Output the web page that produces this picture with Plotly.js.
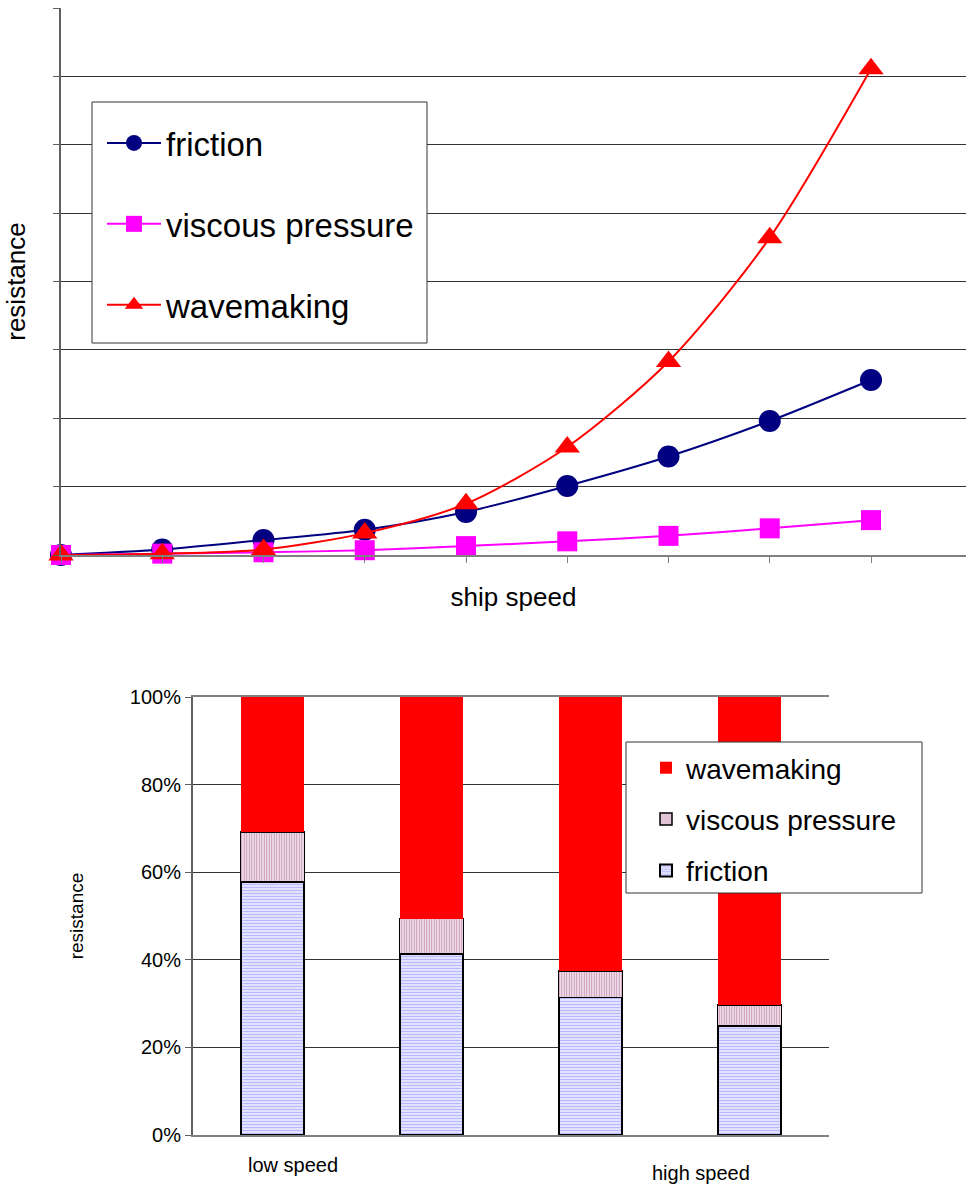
<!DOCTYPE html>
<html>
<head>
<meta charset="utf-8">
<script src="https://cdn.plot.ly/plotly-3.0.1.min.js"></script>
<style>
  html, body { margin: 0; padding: 0; background: #fff; }
  #chart { width: 966px; height: 1184px; }
</style>
</head>
<body>
<div id="chart"></div>
<script>
// Resistance components against ship speed (arbitrary units)
const speedSteps = [0, 1, 2, 3, 4, 5, 6, 7, 8];
const friction   = [0, 0.08, 0.22, 0.37, 0.63, 1.01, 1.44, 1.96, 2.56];
const viscous    = [0, 0.02, 0.04, 0.07, 0.13, 0.20, 0.28, 0.39, 0.51];
const wavemaking = [0, 0.02, 0.08, 0.32, 0.75, 1.58, 2.83, 4.64, 7.11];

// Share of total resistance (%) at four speeds
const speedBands     = [0, 1, 2, 3];
const bandLabels     = ['low speed', '', '', 'high speed'];
const frictionShare  = [57.8, 41.3, 31.4, 24.9];
const viscousShare   = [11.4, 8.1, 6.0, 4.8];
const waveShare      = [30.8, 50.6, 62.6, 70.3];

const FONT = 'Liberation Sans, Arial, sans-serif';
const W = 966, H = 1184;
const px = v => v / W;
const py = v => 1 - v / H;

const traces = [
  {
    x: speedSteps, y: friction, name: 'friction', legendgroup: 'a',
    type: 'scatter', mode: 'lines+markers', cliponaxis: false,
    line: { color: '#000080', width: 2, shape: 'spline', smoothing: 0.8 },
    marker: { symbol: 'circle', size: 22, color: '#000080' },
    xaxis: 'x', yaxis: 'y', legend: 'legend'
  },
  {
    x: speedSteps, y: viscous, name: 'viscous pressure', legendgroup: 'b',
    type: 'scatter', mode: 'lines+markers', cliponaxis: false,
    line: { color: '#FF00FF', width: 2, shape: 'spline', smoothing: 0.8 },
    marker: { symbol: 'square', size: 20, color: '#FF00FF' },
    xaxis: 'x', yaxis: 'y', legend: 'legend'
  },
  {
    x: speedSteps, y: wavemaking, name: 'wavemaking', legendgroup: 'c',
    type: 'scatter', mode: 'lines+markers', cliponaxis: false,
    line: { color: '#FF0000', width: 2, shape: 'spline', smoothing: 0.8 },
    marker: { symbol: 'triangle-up', size: 22, color: '#FF0000' },
    xaxis: 'x', yaxis: 'y', legend: 'legend'
  },
  {
    x: speedBands, y: frictionShare, name: 'friction', legendgroup: 'd', legendrank: 3,
    type: 'bar', width: 0.4,
    marker: {
      color: '#ffffff',
      line: { color: '#000000', width: 2 },
      pattern: { shape: '-', fgcolor: '#b8b8ff', bgcolor: '#ffffff', size: 3, solidity: 0.6 }
    },
    xaxis: 'x2', yaxis: 'y2', legend: 'legend2'
  },
  {
    x: speedBands, y: viscousShare, name: 'viscous pressure', legendgroup: 'e', legendrank: 2,
    type: 'bar', width: 0.4,
    marker: {
      color: '#ffffff',
      line: { color: '#000000', width: 1.5 },
      pattern: { shape: '|', fgcolor: '#c893b3', bgcolor: '#ffffff', size: 2.5, solidity: 0.55 }
    },
    xaxis: 'x2', yaxis: 'y2', legend: 'legend2'
  },
  {
    x: speedBands, y: waveShare, name: 'wavemaking', legendgroup: 'f', legendrank: 1,
    type: 'bar', width: 0.4,
    marker: { color: '#FF0000', line: { color: '#FF0000', width: 0 } },
    xaxis: 'x2', yaxis: 'y2', legend: 'legend2'
  }
];

const layout = {
  width: W, height: H,
  margin: { l: 0, r: 0, t: 0, b: 0 },
  paper_bgcolor: '#ffffff', plot_bgcolor: '#ffffff',
  font: { family: FONT, color: '#000000' },
  showlegend: true,
  barmode: 'stack',
  xaxis: {
    domain: [px(61), 1], range: [0, 905 / 101.25],
    showgrid: false, zeroline: false,
    showline: true, linecolor: '#808080', linewidth: 2,
    ticks: 'outside', ticklen: 6, tickcolor: '#808080', tickwidth: 1,
    tick0: 0, dtick: 1, showticklabels: false,
    title: { text: 'ship speed', font: { size: 26, family: FONT }, standoff: 26 },
    anchor: 'y'
  },
  yaxis: {
    domain: [py(555), py(8)], range: [0, 8],
    showgrid: true, gridcolor: '#333333', gridwidth: 1, zeroline: false,
    showline: true, linecolor: '#606060', linewidth: 2,
    ticks: 'outside', ticklen: 6, tickcolor: '#606060', tickwidth: 1,
    tick0: 0, dtick: 1, showticklabels: false,
    title: { text: 'resistance', font: { size: 26, family: FONT }, standoff: 20 },
    anchor: 'x'
  },
  xaxis2: {
    domain: [px(193), px(829)], range: [-0.5, 3.5],
    showgrid: false, zeroline: false,
    showline: true, mirror: true, linecolor: '#808080', linewidth: 2,
    ticks: '', showticklabels: false,
    anchor: 'y2'
  },
  yaxis2: {
    domain: [py(1135), py(697)], range: [0, 100],
    showgrid: true, gridcolor: '#333333', gridwidth: 1, zeroline: false,
    showline: true, linecolor: '#606060', linewidth: 2,
    ticks: 'outside', ticklen: 6, tickcolor: '#606060', tickwidth: 1,
    tick0: 0, dtick: 20, ticksuffix: '%',
    tickfont: { size: 20, family: FONT, color: '#000000' },
    title: { text: 'resistance', font: { size: 19, family: FONT }, standoff: 41 },
    anchor: 'x2'
  },
  legend: {
    x: px(102), y: py(115), xanchor: 'left', yanchor: 'top',
    bgcolor: 'rgba(0,0,0,0)', borderwidth: 0,
    font: { size: 33, family: FONT, color: '#000000' },
    traceorder: 'grouped', tracegroupgap: 35, itemwidth: 54
  },
  legend2: {
    x: px(646), y: py(743), xanchor: 'left', yanchor: 'top',
    bgcolor: 'rgba(0,0,0,0)', borderwidth: 0,
    font: { size: 28, family: FONT, color: '#000000' },
    traceorder: 'grouped', tracegroupgap: 12, itemwidth: 30
  },
  // legend frames
  shapes: [
    { type: 'rect', xref: 'paper', yref: 'paper', layer: 'above',
      x0: px(92), x1: px(427), y0: py(343), y1: py(102),
      fillcolor: '#ffffff', line: { color: '#333333', width: 1 } },
    { type: 'rect', xref: 'paper', yref: 'paper', layer: 'above',
      x0: px(626), x1: px(922), y0: py(893), y1: py(742),
      fillcolor: '#ffffff', line: { color: '#333333', width: 1 } }
  ],
  annotations: [
    { xref: 'paper', yref: 'paper', x: px(293), y: py(1165), text: bandLabels[0],
      showarrow: false, xanchor: 'center', yanchor: 'middle', font: { size: 20, family: FONT } },
    { xref: 'paper', yref: 'paper', x: px(701), y: py(1173), text: bandLabels[3],
      showarrow: false, xanchor: 'center', yanchor: 'middle', font: { size: 20, family: FONT } }
  ]
};

Plotly.newPlot('chart', traces, layout, { staticPlot: true, displayModeBar: false });
</script>
</body>
</html>
